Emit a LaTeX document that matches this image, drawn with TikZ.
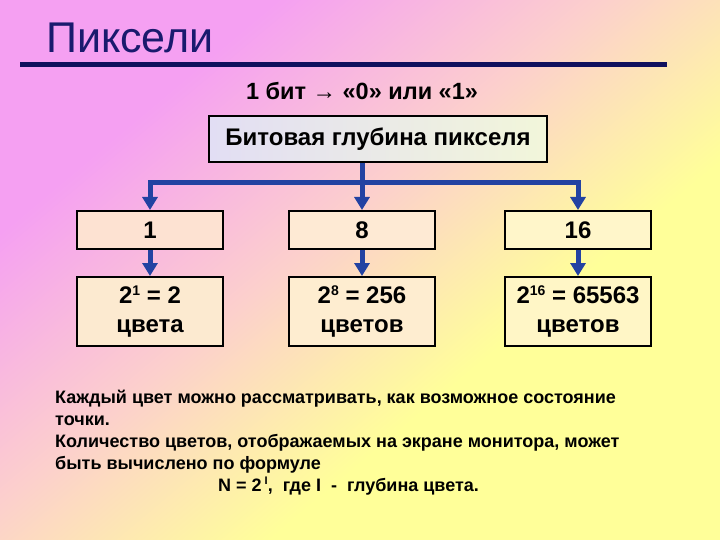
\documentclass[tikz,border=0pt]{standalone}
\usepackage{fontspec}
\setmainfont{Liberation Sans}
\usetikzlibrary{arrows.meta}
\definecolor{bgpink}{HTML}{F5A0F2}
\definecolor{bgpeach}{HTML}{FCD0CC}
\definecolor{bgyellow}{HTML}{FFFF99}
\definecolor{navy}{HTML}{1A1A6E}
\definecolor{linenavy}{HTML}{10105E}
\definecolor{connblue}{HTML}{2342A2}
\definecolor{topL}{HTML}{E2DEF4}
\definecolor{topR}{HTML}{F2F6DA}
\definecolor{fA}{HTML}{FDE2D2}
\definecolor{fB}{HTML}{FEEAD4}
\definecolor{fC}{HTML}{FFF6CA}
\definecolor{gA}{HTML}{FCEAD0}
\definecolor{gB}{HTML}{FEEDD0}
\definecolor{gC}{HTML}{FFF6C6}
\pgfdeclarehorizontalshading{bgshade}{100bp}{color(0bp)=(bgpink); color(29bp)=(bgpink); color(46bp)=(bgpeach); color(62bp)=(bgyellow); color(100bp)=(bgyellow)}
\tikzset{
  box/.style={draw=black, line width=2pt, minimum width=146pt, inner sep=0pt, font=\bfseries\fontsize{24}{29}\selectfont, align=center},
  conn/.style={draw=connblue, line width=5pt, -{Triangle[width=15pt,length=13pt]}},
  para/.style={anchor=base west, inner sep=0pt, font=\bfseries\fontsize{18}{20}\selectfont}
}
\newcommand{\sups}[1]{\raisebox{0.6ex}{\fontsize{14}{14}\selectfont #1}}
\newcommand{\supsmall}[1]{\raisebox{0.7ex}{\fontsize{11}{11}\selectfont #1}}
\begin{document}
\begin{tikzpicture}[x=1pt,y=-1pt]
\useasboundingbox (0,0) rectangle (720,540);
\shade[shading=bgshade, shading angle=-50] (0,0) rectangle (720,540);
% title
\node[anchor=base west, inner sep=0pt, text=navy, font=\fontsize{43}{48}\selectfont] (title) at (46,53) {Пиксели};
\coordinate (ulL) at (20,65);
\coordinate (ulR) at (667,65);
\draw[linenavy, line width=5pt] (ulL) -- (ulR);
\node[anchor=base, inner sep=0pt, font=\bfseries\fontsize{23.5}{26}\selectfont] (bit) at (362,100) {1 бит {\mdseries→} «0» или «1»};
% top box
\node[draw=black, line width=2pt, left color=topL, right color=topR, minimum width=338pt, minimum height=46pt, inner sep=0pt, font=\bfseries\fontsize{24}{26}\selectfont] (top) at (378,139) {Битовая глубина пикселя};
% row 1
\node[box, fill=fA, minimum height=38pt] (b1) at (150,230) {1};
\node[box, fill=fB, minimum height=38pt] (b8) at (362,230) {8};
\node[box, fill=fC, minimum height=38pt] (b16) at (578,230) {16};
% row 2
\node[box, fill=gA, minimum height=69pt] (c1) at (150,311.5) {2\sups{1} = 2\\цвета};
\node[box, fill=gB, minimum height=69pt] (c8) at (362,311.5) {2\sups{8} = 256\\цветов};
\node[box, fill=gC, minimum height=69pt] (c16) at (578,311.5) {2\sups{16} = 65563\\цветов};
% connectors
\coordinate (bar) at (362,183);
\draw[conn, {Triangle[width=15pt,length=13pt]}-{Triangle[width=15pt,length=13pt]}] (b1.north) |- (bar) -| (b16.north);
\draw[conn] (top.south -| b8.north) -- (b8.north);
\draw[conn] (b1.south) -- (c1.north);
\draw[conn] (b8.south) -- (c8.north);
\draw[conn] (b16.south) -- (c16.north);
% paragraph
\node[para] (p1) at (55,403) {Каждый цвет можно рассматривать, как возможное состояние};
\node[para] (p2) at (55,425) {точки.};
\node[para] (p3) at (55,447) {Количество цветов, отображаемых на экране монитора, может};
\node[para] (p4) at (55,469) {быть вычислено по формуле};
\node[para] (p5) at (218,491) {N = 2\,\supsmall{I}, \ где I \ - \ глубина цвета.};
\end{tikzpicture}
\end{document}
